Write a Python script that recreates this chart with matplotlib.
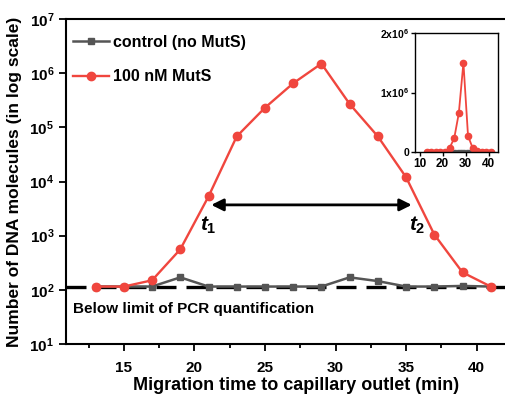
import matplotlib
matplotlib.use("Agg")
import matplotlib.pyplot as plt
import numpy as np

plt.rcParams['font.family'] = ['Liberation Sans', 'DejaVu Sans']
plt.rcParams['font.weight'] = 'bold'
plt.rcParams['mathtext.fontset'] = 'custom'
plt.rcParams['mathtext.rm'] = 'Liberation Sans:bold'
plt.rcParams['mathtext.bf'] = 'Liberation Sans:bold'
plt.rcParams['mathtext.it'] = 'Liberation Sans:italic:bold'
plt.rcParams['mathtext.bfit'] = 'Liberation Sans:italic:bold'

time_ctrl = [13, 15, 17, 19, 21, 23, 25, 27, 29, 31, 33, 35, 37, 39, 41]
ctrl = [115, 115, 115, 170, 115, 115, 115, 115, 115, 170, 145, 115, 115, 118, 115]
time_mut = [13, 15, 17, 19, 21, 23, 25, 27, 29, 31, 33, 35, 37, 39, 41]
mut = [115, 115, 150, 560, 5300, 68000, 230000, 650000, 1500000, 270000, 68000, 12000, 1050, 210, 115]
limit = 112
arrow_y = 3700
arrow_x = [21, 35.6]
y_ticks = [1e1, 1e2, 1e3, 1e4, 1e5, 1e6, 1e7]
x_ticks = [15, 20, 25, 30, 35, 40]

red = '#f0463e'
gray = '#555555'

fig = plt.figure(figsize=(5.06, 3.97), dpi=100)
ax = fig.add_axes([66/506, 1-344/397, 460/506, (344-19)/397])
ax.set_yscale('log')
ax.plot(time_ctrl, ctrl, '-s', color=gray, ms=5, lw=1.8, label='control (no MutS)', zorder=3)
ax.plot(time_mut, mut, '-o', color=red, ms=6, lw=1.7, label='100 nM MutS', zorder=4)
ax.axhline(limit, color='black', lw=2.4, dashes=(6, 3), zorder=2)
ax.set_xlim(10.9, 43.5)
ax.set_ylim(10, 1e7)
ax.set_xticks(x_ticks)
ax.set_xticks(np.arange(12.5, 43, 5), minor=True)
ax.set_yticks(y_ticks)
ax.yaxis.set_minor_locator(matplotlib.ticker.NullLocator())
ax.tick_params(axis='both', labelsize=11, width=1.3, length=5, direction='out')
ax.tick_params(axis='x', pad=7)
ax.tick_params(axis='x', which='minor', width=1.3, length=3)
for s in ax.spines.values():
    s.set_linewidth(1.5)
fig.text(296/506, 1-385/397, 'Migration time to capillary outlet (min)', fontsize=13,
         fontweight='bold', ha='center', va='center')
ax.set_ylabel('Number of DNA molecules (in log scale)', fontsize=12.5, fontweight='bold', labelpad=5)
ax.annotate('', xy=(arrow_x[0], arrow_y), xytext=(arrow_x[1], arrow_y),
            arrowprops=dict(arrowstyle='<|-|>', color='black', lw=2, mutation_scale=18))
ax.text(21.0, 1550, '$\\mathit{t}_\\mathbf{1}$', fontsize=15, ha='center', va='center')
ax.text(35.8, 1550, '$\\mathit{t}_\\mathbf{2}$', fontsize=15, ha='center', va='center')
ax.text(11.4, 45, 'Below limit of PCR quantification', fontsize=11, fontweight='bold', va='center')
leg = ax.legend(loc='upper left', frameon=False, fontsize=11.5, handlelength=2.3,
                borderaxespad=0.3, labelspacing=1.2, handletextpad=0.2,
                bbox_to_anchor=(-0.01, 0.985))
for t in leg.get_texts():
    t.set_fontweight('bold')

ins = fig.add_axes([415/506, 1-152/397, 83/506, 119/397])
ins.plot(time_ctrl, ctrl, '-s', color=gray, ms=2.5, lw=1.5)
ins.plot(time_mut, mut, '-o', color=red, ms=4.5, lw=1.3)
ins.set_xlim(8, 44)
ins.set_ylim(0, 2e6)
ins.set_xticks([10, 20, 30, 40])
ins.set_yticks([0, 1e6, 2e6])
ins.set_yticklabels(['0', '1x10$^6$', '2x10$^6$'])
ins.tick_params(labelsize=7.5, width=1, length=3, pad=1)
for t in ins.get_xticklabels():
    t.set_fontsize(8.5)
for s in ins.spines.values():
    s.set_linewidth(1)

fig.savefig('out.png', dpi=100)
